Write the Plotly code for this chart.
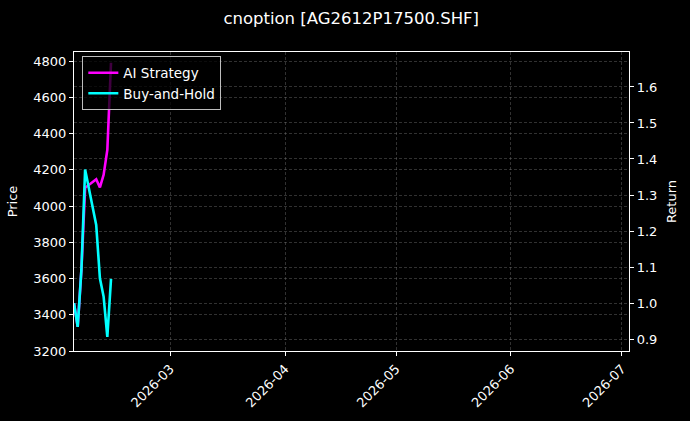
import plotly.graph_objects as go

# trading days shown in the chart
dates = ['2026-02-03', '2026-02-04', '2026-02-05', '2026-02-06', '2026-02-09',
         '2026-02-10', '2026-02-11', '2026-02-12', '2026-02-13']
ai_strategy = [1.00, 0.934, 1.092, 1.32, 1.344, 1.321, 1.356, 1.425, 1.667]
buy_and_hold = [1.00, 0.934, 1.092, 1.371, 1.217, 1.069, 1.018, 0.906, 1.067]

month_ticks = ['2026-03-01', '2026-04-01', '2026-05-01', '2026-06-01', '2026-07-01']
month_labels = ['2026-03', '2026-04', '2026-05', '2026-06', '2026-07']

font = 'DejaVu Sans'
grid = 'rgba(130,130,130,0.38)'

fig = go.Figure()

# empty trace so the left (Price) axis is drawn
fig.add_trace(go.Scatter(x=[], y=[], mode='lines', showlegend=False, hoverinfo='skip'))

fig.add_trace(go.Scatter(x=dates, y=ai_strategy, mode='lines', name='AI Strategy',
                         line=dict(color='#ff00ff', width=2.6), yaxis='y2'))
fig.add_trace(go.Scatter(x=dates, y=buy_and_hold, mode='lines', name='Buy-and-Hold',
                         line=dict(color='#00ffff', width=2.6), yaxis='y2'))

axis_style = dict(showline=True, linecolor='white', linewidth=1.2,
                  ticks='outside', ticklen=4, tickcolor='white',
                  showgrid=True, gridcolor=grid, griddash='3px,2px', gridwidth=0.8,
                  zeroline=False)

fig.update_layout(
    width=690, height=421,
    paper_bgcolor='black', plot_bgcolor='black',
    margin=dict(l=74, r=61, t=52, b=70),
    font=dict(family=font, size=13, color='white'),
    title=dict(text='cnoption [AG2612P17500.SHF]', x=0.509, xanchor='center',
               y=0.957, yanchor='middle', font=dict(size=16.5, color='white')),
    xaxis=dict(type='date', range=['2026-02-03 00:00', '2026-07-02 22:00'],
               tickvals=month_ticks, ticktext=month_labels, tickangle=-45,
               mirror=True, **axis_style),
    yaxis=dict(title=dict(text='Price', standoff=12, font=dict(size=13)),
               range=[3200, 4850], dtick=200, **axis_style),
    yaxis2=dict(title=dict(text='Return', standoff=10, font=dict(size=13)),
                overlaying='y', side='right',
                range=[0.867, 1.697], dtick=0.1, tickformat='.1f', **axis_style),
    legend=dict(x=0.015, y=0.985, xanchor='left', yanchor='top',
                bgcolor='rgba(0,0,0,0.75)', bordercolor='rgba(210,210,210,0.9)',
                borderwidth=1, font=dict(size=13.5, color='white')),
)

fig.write_html('out.html', config={'displayModeBar': False},
               post_script="document.body.style.margin='0';document.body.style.background='black';")
